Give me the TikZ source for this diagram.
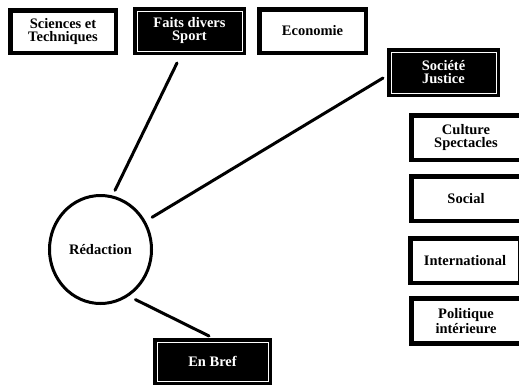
\documentclass[tikz,border=0pt]{standalone}
\usepackage{fontspec}
\setmainfont{Liberation Serif}
\usetikzlibrary{shapes.geometric}
\tikzset{
  lbl/.style={font=\bfseries\fontsize{14.5}{13}\selectfont, align=center, inner sep=0pt, outer sep=0pt},
  whitebox/.style={lbl, rectangle, draw=black, line width=4.5pt, fill=white, text=black},
  blackbox/.style={lbl, rectangle, draw=black, double=white, double distance=1pt, line width=3.5pt, fill=black, text=white},
  conn/.style={draw=black, line width=3pt, line cap=round},
}
\begin{document}
\begin{tikzpicture}[x=1pt,y=-1pt]
\useasboundingbox (0,0) rectangle (519,386);
\clip (0,0) rectangle (519,386);
\fill[white] (0,0) rectangle (519,386);

\node[whitebox, minimum width=105.5pt, minimum height=42.5pt] (sci) at (63,31.5) {Sciences et\\Techniques};
\node[blackbox, minimum width=105pt, minimum height=40pt] (faits) at (189.5,31) {Faits divers\\Sport};
\node[whitebox, minimum width=106.5pt, minimum height=43.5pt] (eco) at (312.5,31) {Economie};
\node[blackbox, minimum width=105pt, minimum height=41pt] (soc) at (443.5,72.5) {Société\\Justice};
\node[whitebox, minimum width=109.5pt, minimum height=44.5pt] (cult) at (466,137.5) {Culture\\Spectacles};
\node[whitebox, minimum width=109.5pt, minimum height=44.5pt] (social) at (466,198.5) {Social};
\node[whitebox, minimum width=109.5pt, minimum height=44.5pt] (inter) at (465,260.5) {International};
\node[whitebox, minimum width=109.5pt, minimum height=45pt] (poli) at (466,321) {Politique\\intérieure};
\node[blackbox, minimum width=111pt, minimum height=39pt] (bref) at (212.5,361.5) {En Bref};

\node[lbl, ellipse, draw=black, line width=3pt, fill=white, minimum width=102pt, minimum height=108pt] (red) at (100.5,249.5) {Rédaction};

\draw[conn] ([xshift=1.5pt,yshift=7pt]red.76) -- ([xshift=-12.5pt,yshift=-12pt]faits.south);
\draw[conn] ([xshift=7.7pt,yshift=4.8pt]red.32) -- ([xshift=-8pt,yshift=-5.5pt]soc.west);
\draw[conn] ([xshift=4.6pt,yshift=-6.7pt]red.-55.7) -- ([xshift=-3.5pt,yshift=6pt]bref.north);
\end{tikzpicture}
\end{document}
